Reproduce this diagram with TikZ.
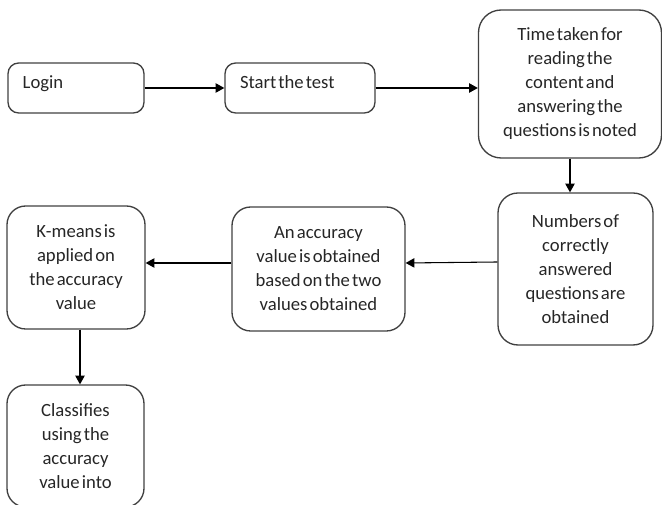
\documentclass[tikz,border=0pt]{standalone}
\usepackage{fontspec}
\setmainfont{Carlito}[WordSpace=0.5]
\usetikzlibrary{arrows.meta}
\begin{document}
\begin{tikzpicture}
			[x=0.75pt, y=-0.75pt, font=\fontsize{14}{18}\selectfont,
			box/.style={draw=black!75, line width=1pt, rounded corners=#1,
				align=center, inner sep=0pt, text=black!85},
			box/.default=8pt,
			leftbox/.style={box, align=left, inner xsep=11pt,
				text height=10pt, text depth=8.5pt,
				execute at begin node={\spaceskip=0pt\relax}},
			>={Triangle[length=6.5pt,width=7pt]}, line width=0.8pt]
			\useasboundingbox (0,0) rectangle (662,505);
			\clip (0,0) rectangle (662,505);
			\node[leftbox, minimum width=102pt, minimum height=37.5pt, text width=80pt] (login) at (76,88) {Login};
			\node[leftbox, minimum width=112.5pt, minimum height=37.5pt, text width=90pt] (start) at (300,88) {Start the test};
			\node[box=17pt, minimum width=137.25pt, minimum height=111pt] (timetaken) at (570,84) {Time taken for\\reading the\\content and\\answering the\\questions is noted};
			\node[box=15pt, minimum width=116.25pt, minimum height=114pt] (numbers) at (575.5,269) {Numbers of\\correctly\\answered\\questions are\\obtained};
			\node[box=14pt, minimum width=129.75pt, minimum height=93pt] (accuracy) at (318.5,269) {An accuracy\\value is obtained\\based on the two\\values obtained};
			\node[box=14pt, minimum width=103.5pt, minimum height=92.25pt] (kmeans) at (76,267.5) {K-means is\\applied on\\the accuracy\\value};
			\node[box=14pt, minimum width=102.75pt, minimum height=91.5pt] (classify) at (75.5,446) {Classifies\\using the\\accuracy\\value into};
			\draw (login) edge[->] (start);
			\draw (start) edge[->] (start -| timetaken.west);
			\draw (timetaken.south) edge[->] (timetaken.south |- numbers.north);
			\draw ([yshift=5.25pt]numbers.west) edge[->] ([yshift=4.5pt]accuracy.east);
			\draw ([yshift=4.5pt]accuracy.west) edge[->] ([yshift=4.5pt]accuracy.west -| kmeans.east);
			\draw ([xshift=3pt]kmeans.south) edge[->] ([xshift=3pt]kmeans.south |- classify.north);
			\end{tikzpicture}
\end{document}
